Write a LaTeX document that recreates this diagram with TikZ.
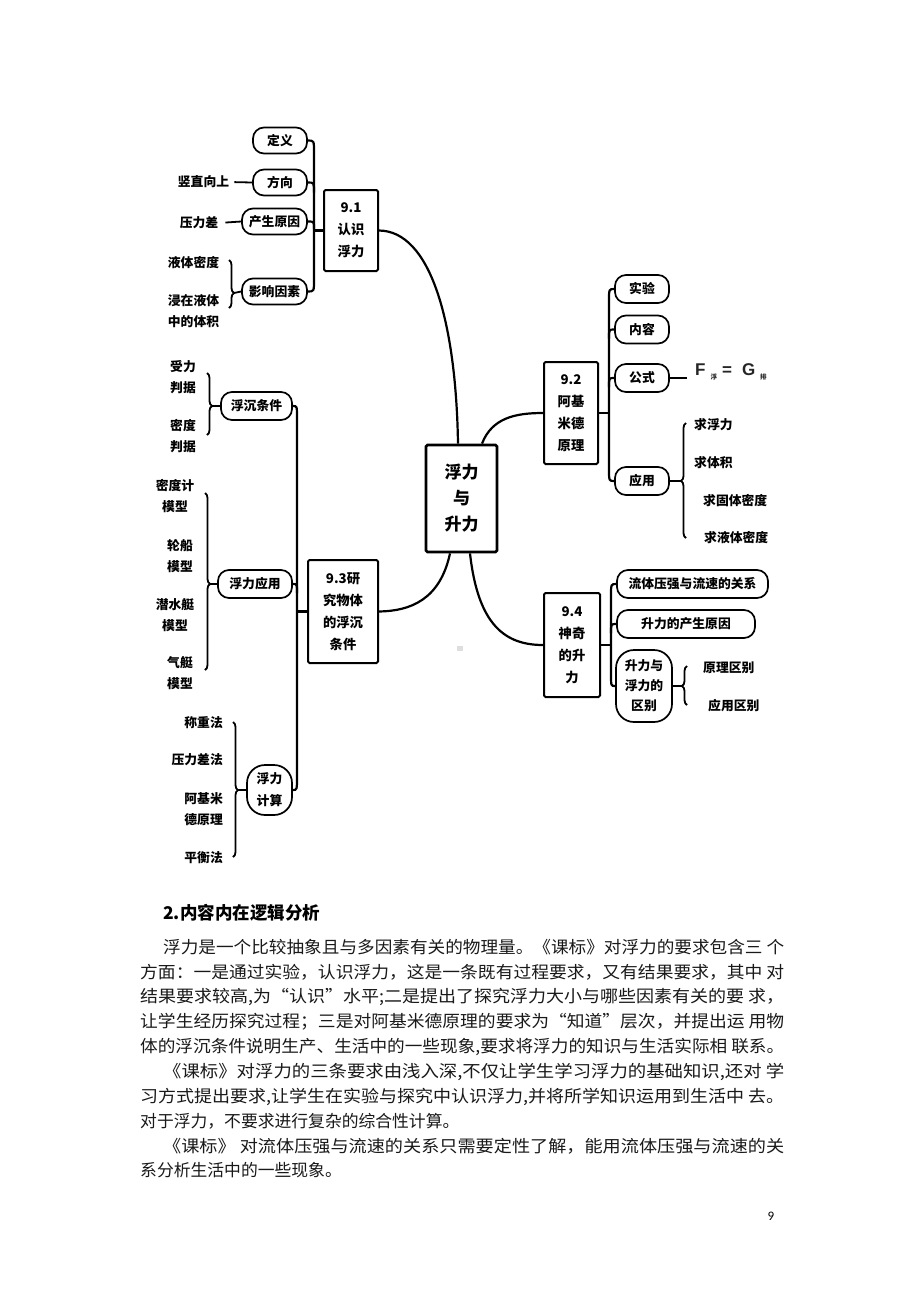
\documentclass[tikz,border=0pt]{standalone}
\usepackage{fontspec}
\usepackage{graphicx}
\setmainfont{Liberation Sans}
\newfontfamily\cjk{Noto Sans CJK SC}
\newfontfamily\carl{Carlito}
\usetikzlibrary{decorations.pathreplacing,calc}
\newsavebox\jbox
\newcommand\jl[2]{\sbox\jbox{#2}\pgfmathsetmacro\jfac{#1/\the\wd\jbox}\scalebox{\jfac}[1]{\usebox\jbox}}
\newcommand\pf{\cjk\bfseries\fontsize{12.8}{21}\selectfont}
\newcommand\boxf{\cjk\bfseries\fontsize{13.3}{22}\selectfont}
\newcommand\cenf{\cjk\bfseries\fontsize{17}{26}\selectfont}
\newcommand\parf{\cjk\fontsize{16.8}{20}\selectfont}
\newcommand\subf{\cjk\fontsize{6.5}{7}\selectfont}
\tikzset{
 pill/.style={draw, line width=1.7pt, rounded corners=11pt, font=\pf, inner sep=0pt, minimum height=27pt, align=center},
 sec/.style={draw, line width=2pt, rounded corners=1.5pt, font=\boxf, inner sep=0pt, align=center},
 leaf/.style={font=\pf, inner sep=0pt, align=center},
 ln/.style={line width=2.2pt},
 ln2/.style={line width=1.8pt},
 br/.style={decorate, decoration={brace, amplitude=5pt, aspect=#1}, line width=1.8pt},
 br/.default=0.5,
 para/.style={anchor=west, inner sep=0pt, font=\parf, text=black!90},
}
\begin{document}
\begin{tikzpicture}[x=1pt,y=-1pt]
\fill[white] (0,0) rectangle (920,1302);
\path[use as bounding box] (0,0) rectangle (920,1302);

% main boxes
\node[sec, line width=2.8pt, font=\cenf, minimum width=71pt, minimum height=107pt] (c) at (461.5,498.5) {浮力\\与\\升力};
\node[sec, minimum width=54pt, minimum height=81pt] (s1) at (351,230.5) {9.1\\认识\\浮力};
\node[sec, minimum width=54pt, minimum height=102pt] (s2) at (571,413) {9.2\\阿基\\米德\\原理};
\node[sec, minimum width=70pt, minimum height=103pt] (s3) at (343,611.5) {9.3研\\究物体\\的浮沉\\条件};
\node[sec, minimum width=56pt, minimum height=104pt] (s4) at (572,645) {9.4\\神奇\\的升\\力};

% central connectors
\draw[ln] ([xshift=-3.5pt]c.north) .. controls (456,320) and (430,231) .. (s1.east);
\draw[ln] ([xshift=20.5pt]c.north) .. controls (492,418) and (515,413) .. (s2.west);
\draw[ln] ([xshift=8.5pt]c.south) .. controls (478,625) and (505,645) .. (s4.west);
\draw[ln] ([xshift=-11.5pt]c.south) .. controls (440,600) and (410,611) .. (s3.east);

% ---------- 9.1 ----------
\node[pill, minimum width=54pt, minimum height=26pt] (p1) at (280,140.5) {定义};
\node[pill, minimum width=54pt, minimum height=26pt] (p2) at (280,182.5) {方向};
\node[pill, minimum width=65pt, minimum height=26pt] (p3) at (274.5,221.5) {产生原因};
\node[pill, minimum width=65pt, minimum height=26pt] (p4) at (274.5,291.5) {影响因素};
\coordinate (j1) at (314,230.5);
\draw[ln] (s1.west) -- (j1);
\draw[ln] (p1.east) .. controls (p1.east -| j1) .. ($(p1.east -| j1)+(0,12)$) -- ($(p4.east -| j1)+(0,-12)$) .. controls (p4.east -| j1) .. (p4.east);
\draw[ln] (p2.east) .. controls (p2.east -| j1) .. ($(p2.east -| j1)+(0,10)$);
\draw[ln] (p3.east) .. controls (p3.east -| j1) .. ($(p3.east -| j1)+(0,7)$);
\node[leaf] (l1) at (203.5,182) {竖直向上};
\node[leaf] (l2) at (199,223) {压力差};
\node[leaf] (l3) at (193.5,263) {液体密度};
\node[leaf] (l4) at (193.5,311) {浸在液体\\中的体积};
\draw[ln2, shorten <=5pt] (l1.east) -- (p2.west);
\draw[ln2, shorten <=7pt] (l2.east) -- (p3.west);
\coordinate (b1a) at (229,260);
\coordinate (b1b) at (229,308);
\coordinate (b1t) at (234,293);
\draw[br=0.6875] (b1a) -- (b1b);
\draw[ln2] (b1t) -- (p4.west);

% ---------- 9.2 ----------
\node[pill, minimum width=54pt, minimum height=28pt] (sy) at (642,289) {实验};
\node[pill, minimum width=54pt, minimum height=28pt] (nr) at (642,329.5) {内容};
\node[pill, minimum width=54pt, minimum height=28pt] (gs) at (642,378) {公式};
\node[pill, minimum width=54pt, minimum height=28pt] (yy) at (642,481) {应用};
\coordinate (j2) at (609,413);
\draw[ln] (s2.east) -- (j2);
\draw[ln] (sy.west) .. controls (sy.west -| j2) .. ($(sy.west -| j2)+(0,12)$) -- ($(yy.west -| j2)+(0,-12)$) .. controls (yy.west -| j2) .. (yy.west);
\draw[ln] (nr.west) .. controls (nr.west -| j2) .. ($(nr.west -| j2)+(0,9)$);
\draw[ln] (gs.west) .. controls (gs.west -| j2) .. ($(gs.west -| j2)+(0,9)$);
\node[anchor=west, inner sep=0pt, font=\bfseries\fontsize{17}{17}\selectfont, text=black!85] (fm) at (695,372) {F\hspace{5pt}{\subf\raisebox{-4pt}{浮}}\hspace{5pt}=\hspace{10pt}G\hspace{5pt}{\subf\raisebox{-4pt}{排}}};
\draw[ln2, shorten >=8pt] (gs.east) -- (fm.west |- gs.east);
\node[leaf, anchor=west] (q1) at (694,425) {求浮力};
\node[leaf, anchor=west] (q2) at (694,463) {求体积};
\node[leaf, anchor=west] (q3) at (703,501) {求固体密度};
\node[leaf, anchor=west] (q4) at (704,538) {求液体密度};
\coordinate (b2a) at (686,538);
\coordinate (b2b) at (686,423);
\coordinate (b2t) at (681,481);
\draw[br=0.496] (b2a) -- (b2b);
\draw[ln2] (b2t) -- (yy.east);

% ---------- 9.4 ----------
\node[pill, minimum width=151pt, minimum height=28pt] (lt) at (692.5,584) {流体压强与流速的关系};
\node[pill, minimum width=138pt, minimum height=28pt] (sc) at (686,624) {升力的产生原因};
\node[pill, rounded corners=18pt, minimum width=56pt, minimum height=72pt, font=\cjk\bfseries\fontsize{12.8}{20}\selectfont] (qb) at (644,686) {升力与\\浮力的\\区别};
\coordinate (j4) at (611,645);
\draw[ln] (s4.east) -- (j4);
\draw[ln] (lt.west) .. controls (lt.west -| j4) .. ($(lt.west -| j4)+(0,12)$) -- ($(qb.west -| j4)+(0,-12)$) .. controls (qb.west -| j4) .. (qb.west);
\draw[ln] (sc.west) .. controls (sc.west -| j4) .. ($(sc.west -| j4)+(0,9)$);
\node[leaf, anchor=west] (r1) at (703,668) {原理区别};
\node[leaf, anchor=west] (r2) at (708,706) {应用区别};
\coordinate (b4a) at (687,705);
\coordinate (b4b) at (687,666);
\coordinate (b4t) at (682,686);
\draw[br=0.487] (b4a) -- (b4b);
\draw[ln2] (b4t) -- (qb.east);
\fill[black!13] (457,646) rectangle (463,651);

% ---------- 9.3 ----------
\node[pill, minimum width=71pt, minimum height=28pt] (fc) at (256.5,406) {浮沉条件};
\node[pill, minimum width=74pt, minimum height=28pt] (fy) at (255,584) {浮力应用};
\node[pill, rounded corners=18pt, minimum width=45pt, minimum height=50pt, font=\cjk\bfseries\fontsize{12.8}{22}\selectfont] (fj) at (269.5,790) {浮力\\计算};
\coordinate (j3) at (297,611.5);
\draw[ln] (s3.west) -- (j3);
\draw[ln] (fc.east) .. controls (fc.east -| j3) .. ($(fc.east -| j3)+(0,12)$) -- ($(fj.east -| j3)+(0,-14)$) .. controls (fj.east -| j3) .. (fj.east);
\draw[ln] (fy.east) .. controls (fy.east -| j3) .. ($(fy.east -| j3)+(0,9)$);
% leaves of 浮沉条件
\node[leaf] (u1) at (183,377.5) {受力\\判据};
\node[leaf] (u2) at (183,436.5) {密度\\判据};
\coordinate (b3a) at (207,373);
\coordinate (b3b) at (207,435);
\coordinate (b3t) at (212,406);
\draw[br=0.532] (b3a) -- (b3b);
\draw[ln2] (b3t) -- (fc.west);
% leaves of 浮力应用
\node[leaf] (v1) at (175,496) {密度计\\模型};
\node[leaf] (v2) at (180,556) {轮船\\模型};
\node[leaf] (v3) at (175,615) {潜水艇\\模型};
\node[leaf] (v4) at (180,673.5) {气艇\\模型};
\coordinate (b5a) at (205,493);
\coordinate (b5b) at (205,670);
\coordinate (b5t) at (210,584);
\draw[br=0.514] (b5a) -- (b5b);
\draw[ln2] (b5t) -- (fy.west);
% leaves of 浮力计算
\node[leaf, anchor=east] (w1) at (223,723) {称重法};
\node[leaf, anchor=east] (w2) at (223,760) {压力差法};
\node[leaf, anchor=east, align=right] (w3) at (223,809) {阿基米\\德原理};
\node[leaf, anchor=east] (w4) at (223,858) {平衡法};
\coordinate (b6a) at (233,722);
\coordinate (b6b) at (233,857);
\coordinate (b6t) at (238,790);
\draw[br=0.504] (b6a) -- (b6b);
\draw[ln2] (b6t) -- (fj.west);

% ---------- text ----------
\node[anchor=west, inner sep=0pt, font=\cjk\bfseries\fontsize{17.5}{20}\selectfont] (h) at (163,913) {2.内容内在逻辑分析};
\node[para] (t1) at (163,947) {\jl{621pt}{浮力是一个比较抽象且与多因素有关的物理量。《课标》对浮力的要求包含三 个}};
\node[para] (t2) at (140,972) {\jl{644pt}{方面：一是通过实验，认识浮力，这是一条既有过程要求，又有结果要求，其中 对}};
\node[para] (t3) at (140,997) {\jl{644pt}{结果要求较高,为“认识”水平;二是提出了探究浮力大小与哪些因素有关的要 求，}};
\node[para] (t4) at (140,1022) {\jl{644pt}{让学生经历探究过程；三是对阿基米德原理的要求为“知道”层次，并提出运 用物}};
\node[para] (t5) at (140,1047) {\jl{644pt}{体的浮沉条件说明生产、生活中的一些现象,要求将浮力的知识与生活实际相 联系。}};
\node[para] (t6) at (163,1072) {\jl{621pt}{《课标》对浮力的三条要求由浅入深,不仅让学生学习浮力的基础知识,还对 学}};
\node[para] (t7) at (140,1097) {\jl{644pt}{习方式提出要求,让学生在实验与探究中认识浮力,并将所学知识运用到生活中 去。}};
\node[para] (t8) at (140,1121) {对于浮力，不要求进行复杂的综合性计算。};
\node[para] (t9) at (163,1146) {\jl{621pt}{《课标》 对流体压强与流速的关系只需要定性了解，能用流体压强与流速的关}};
\node[para] (t10) at (140,1170) {系分析生活中的一些现象。};
\node[inner sep=0pt, font=\carl\fontsize{13}{13}\selectfont] (pg) at (771,1216) {9};
\end{tikzpicture}
\end{document}
